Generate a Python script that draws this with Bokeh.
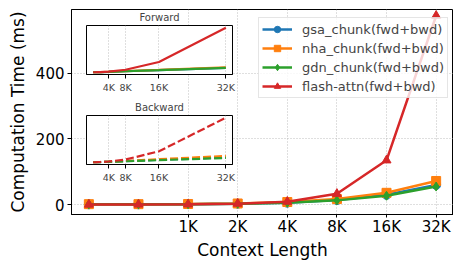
from bokeh.plotting import figure
from bokeh.models import Range1d, DataRange1d, FixedTicker, Legend, LegendItem
from bokeh.embed import file_html
from bokeh.resources import INLINE

# ---------------- data ----------------
seq_lens = [256, 512, 1024, 2048, 4096, 8192, 16384, 32768]
main_tick_vals = [1024, 2048, 4096, 8192, 16384, 32768]
main_tick_labels = ["1K", "2K", "4K", "8K", "16K", "32K"]
inset_tick_vals = [4096, 8192, 16384, 32768]
inset_tick_labels = ["4K", "8K", "16K", "32K"]
y_ticks = [0, 200, 400]

series_names = ["gsa_chunk(fwd+bwd)", "nha_chunk(fwd+bwd)", "gdn_chunk(fwd+bwd)", "flash-attn(fwd+bwd)"]

gsa_total = [1.0, 1.0, 1.5, 3.0, 6.0, 14.0, 30.0, 60.0]
nha_total = [1.5, 1.5, 2.0, 3.5, 8.0, 17.0, 36.0, 72.0]
gdn_total = [1.0, 1.0, 1.5, 3.0, 6.0, 13.0, 27.0, 55.0]
flash_total = [0.3, 0.5, 1.0, 3.0, 9.0, 33.0, 135.0, 575.0]

gsa_fwd = [0.5, 0.5, 0.6, 1.0, 2.0, 4.5, 9.0, 19.0]
nha_fwd = [0.5, 0.5, 0.7, 1.2, 2.5, 5.0, 10.0, 21.0]
gdn_fwd = [0.4, 0.4, 0.6, 1.0, 2.0, 4.5, 9.0, 19.0]
flash_fwd = [0.2, 0.3, 0.5, 1.0, 3.0, 11.0, 44.0, 190.0]

gsa_bwd = [1.0, 1.0, 1.5, 2.5, 5.0, 10.0, 21.0, 42.0]
nha_bwd = [1.0, 1.0, 1.5, 3.0, 6.0, 12.0, 27.0, 55.0]
gdn_bwd = [0.8, 0.8, 1.2, 2.0, 4.5, 9.0, 19.0, 38.0]
flash_bwd = [0.5, 0.8, 1.5, 3.0, 7.0, 24.0, 95.0, 385.0]

colors = ["#1f77b4", "#ff7f0e", "#2ca02c", "#d62728"]
markers = ["circle", "square", "diamond", "triangle"]
FONT = "DejaVu Sans"

# ---------------- main figure ----------------
p = figure(width=453, height=262, x_axis_type="log",
           x_range=Range1d(2 ** 7.65, 2 ** 15.35), y_range=Range1d(-30, 594),
           output_backend="svg", toolbar_location=None,
           min_border_left=71, min_border_right=0, min_border_top=9, min_border_bottom=47)
p.outline_line_color = "black"
p.outline_line_alpha = 1.0

p.xaxis.ticker = FixedTicker(ticks=main_tick_vals)
p.xaxis.major_label_overrides = {v: l for v, l in zip(main_tick_vals, main_tick_labels)}
p.yaxis.ticker = FixedTicker(ticks=y_ticks)
for ax in (p.xaxis, p.yaxis):
    ax.major_tick_in = 0
    ax.minor_tick_line_color = None
    ax.major_label_text_font = FONT
    ax.major_label_text_font_size = "15px"
    ax.major_label_text_color = "black"
    ax.axis_label_text_font = FONT
    ax.axis_label_text_font_size = "17px"
    ax.axis_label_text_font_style = "normal"
    ax.axis_label_text_color = "black"
    ax.axis_line_color = "black"
p.xaxis.major_tick_out = 3
p.xaxis.major_label_standoff = 0
p.yaxis.major_tick_out = 4
p.yaxis.major_label_standoff = 3
p.xaxis.axis_label = "Context Length"
p.yaxis.axis_label = "Computation Time (ms)"
p.xaxis.axis_label_standoff = 1
p.yaxis.axis_label_standoff = 5

for g in (p.xgrid, p.ygrid):
    g.grid_line_color = "#b0b0b0"
    g.grid_line_dash = "1 2"
    g.grid_line_alpha = 0.8

totals = [gsa_total, nha_total, gdn_total, flash_total]
items = []
for name, vals, c, m in zip(series_names, totals, colors, markers):
    r1 = p.line(seq_lens, vals, line_color=c, line_width=2.5)
    r2 = p.scatter(seq_lens, vals, marker=m, size=9, fill_color=c, line_color=c)
    items.append(LegendItem(label=name, renderers=[r1, r2]))

legend = Legend(items=items, location=(187, 116), padding=3, spacing=3,
                glyph_width=30, glyph_height=16, label_height=16, label_standoff=10,
                label_text_font=FONT, label_text_font_size="13px", margin=0,
                border_line_color="#cccccc", background_fill_alpha=0.8)
p.add_layout(legend)


# ---------------- insets ----------------
def make_inset(title, data, dash, left, top):
    f = figure(width=170, height=89,
               x_range=DataRange1d(range_padding=0.1), y_range=DataRange1d(range_padding=0.1),
               y_axis_location=None, output_backend="svg", toolbar_location=None,
               min_border_left=10, min_border_right=14, min_border_top=12, min_border_bottom=22,
               styles={"position": "absolute", "left": f"{left}px", "top": f"{top}px"})
    f.border_fill_alpha = 0
    f.background_fill_color = "white"
    f.outline_line_color = "black"
    f.outline_line_alpha = 1.0
    f.title.text = title
    f.title.align = "center"
    f.title.text_font = FONT
    f.title.text_font_size = "10px"
    f.title.text_font_style = "normal"
    f.title.standoff = 5
    f.xaxis.ticker = FixedTicker(ticks=inset_tick_vals)
    f.xaxis.major_label_overrides = {v: l for v, l in zip(inset_tick_vals, inset_tick_labels)}
    f.xaxis.major_tick_out = 4
    f.xaxis.major_tick_in = 0
    f.xaxis.minor_tick_line_color = None
    f.xaxis.major_label_text_font = FONT
    f.xaxis.major_label_text_font_size = "9.5px"
    f.xaxis.major_label_standoff = 3
    f.xaxis.axis_line_color = "black"
    f.xgrid.grid_line_color = "#b0b0b0"
    f.xgrid.grid_line_dash = "1 2"
    f.xgrid.grid_line_alpha = 0.8
    f.ygrid.grid_line_color = None
    for vals, c in zip(data, colors):
        f.line(seq_lens, vals, line_color=c, line_width=2.2, line_dash=dash)
    return f


fwd_inset = make_inset("Forward", [gsa_fwd, nha_fwd, gdn_fwd, flash_fwd], "solid", 76, 7)
bwd_inset = make_inset("Backward", [gsa_bwd, nha_bwd, gdn_bwd, flash_bwd], "8 3", 76, 97)

open("out.html", "w").write(file_html([p, fwd_inset, bwd_inset], INLINE))
